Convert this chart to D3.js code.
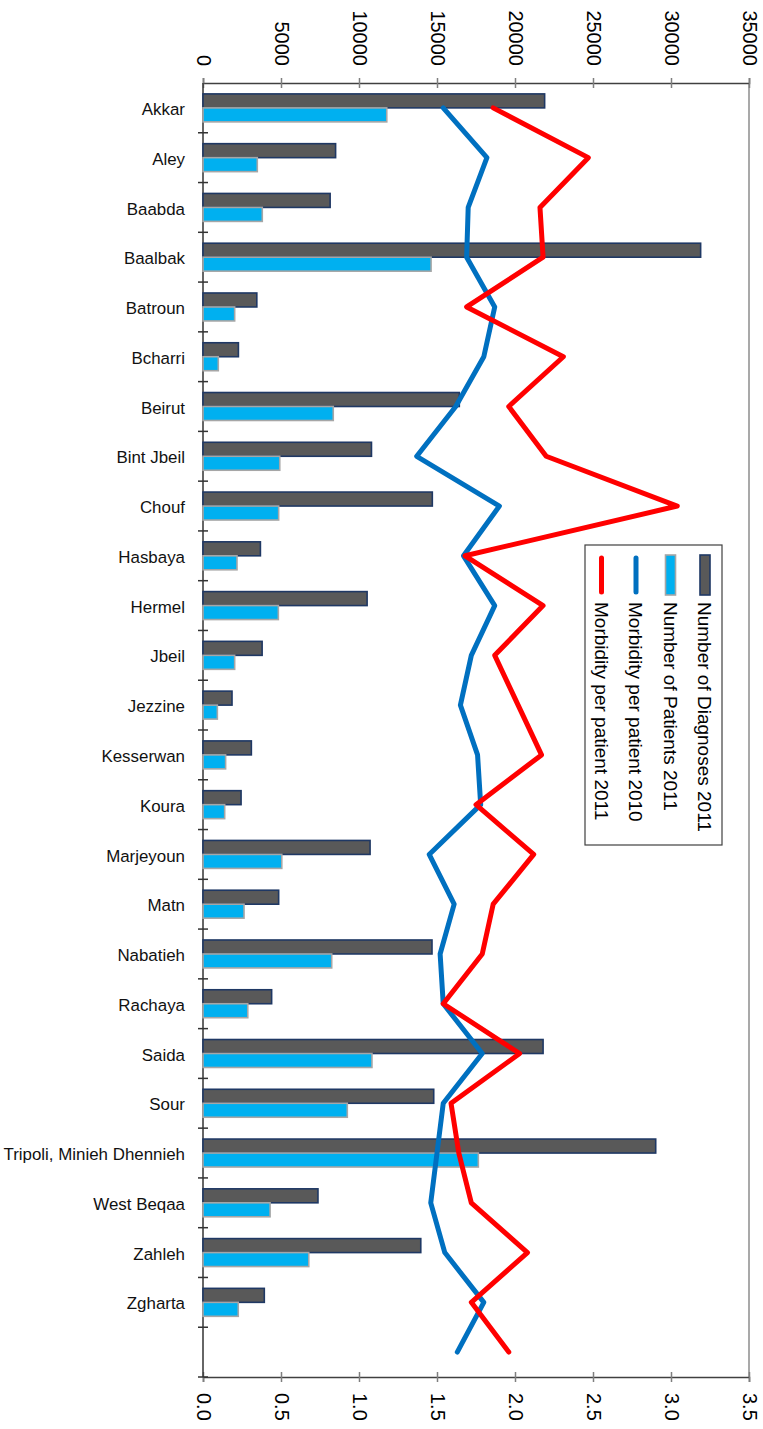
<!DOCTYPE html>
<html>
<head>
  <meta charset="utf-8">
  <title>Diagnoses and Patients by District</title>
  <script src="https://d3js.org/d3.v7.min.js"></script>
  <style>
    body { margin: 0; background: #fff; }
    svg { display: block; font-family: "Liberation Sans", Arial, sans-serif; }
  </style>
</head>
<body>
<svg id="chart" width="763" height="1429"></svg>

<script>
  // values (last row is an unlabeled blank category)
  const districts = ["Akkar", "Aley", "Baabda", "Baalbak", "Batroun", "Bcharri", "Beirut", "Bint Jbeil",
    "Chouf", "Hasbaya", "Hermel", "Jbeil", "Jezzine", "Kesserwan", "Koura", "Marjeyoun", "Matn",
    "Nabatieh", "Rachaya", "Saida", "Sour", "Tripoli, Minieh Dhennieh", "West Beqaa", "Zahleh", "Zgharta", ""];

  const diagnoses2011 = [21900, 8500, 8150, 31900, 3450, 2270, 16430, 10800, 14700, 3680, 10520, 3790,
    1860, 3100, 2440, 10710, 4850, 14680, 4400, 21800, 14790, 29020, 7370, 13960, 3930, null];

  const patients2011 = [11780, 3480, 3800, 14620, 2030, 980, 8350, 4920, 4850, 2180, 4830, 2030,
    920, 1450, 1390, 5050, 2630, 8250, 2870, 10830, 9250, 17650, 4300, 6780, 2260, null];

  const morbidity2010 = [1.54, 1.82, 1.70, 1.69, 1.87, 1.80, 1.62, 1.37, 1.90, 1.67, 1.87, 1.72,
    1.65, 1.76, 1.78, 1.45, 1.61, 1.52, 1.54, 1.79, 1.54, 1.50, 1.46, 1.55, 1.80, 1.63];

  const morbidity2011 = [1.86, 2.47, 2.16, 2.18, 1.69, 2.31, 1.96, 2.20, 3.04, 1.68, 2.18, 1.87,
    2.02, 2.17, 1.75, 2.12, 1.86, 1.79, 1.54, 2.03, 1.59, 1.64, 1.72, 2.08, 1.72, 1.96];

  const countTicks = [0, 5000, 10000, 15000, 20000, 25000, 30000, 35000];
  const ratioTicks = [0, 0.5, 1, 1.5, 2, 2.5, 3, 3.5];

  const legendItems = [
    { label: "Number of Diagnoses 2011", kind: "bar", fill: "#595959", stroke: "#1f3864" },
    { label: "Number of Patients 2011", kind: "bar", fill: "#00b0f0", stroke: "#a6a6a6" },
    { label: "Morbidity per patient 2010", kind: "line", stroke: "#0070c0" },
    { label: "Morbidity per patient 2011", kind: "line", stroke: "#ff0000" }
  ];

  const margin = { top: 83, right: 14, bottom: 52, left: 203 };
  const svg = d3.select("#chart"),
    width = +svg.attr("width") - margin.left - margin.right,
    height = +svg.attr("height") - margin.top - margin.bottom,
    g = svg.append("g").attr("transform", `translate(${margin.left}, ${margin.top})`);

  const rows = districts.map((name, i) => ({
    name,
    diag: diagnoses2011[i],
    pat: patients2011[i],
    m10: morbidity2010[i],
    m11: morbidity2011[i]
  }));

  const y = d3.scaleBand()
    .domain(districts)
    .range([0, height]);

  const yInner = d3.scaleBand()
    .domain(["diag", "pat"])
    .range([0, y.bandwidth()])
    .paddingOuter(0.78);

  const x = d3.scaleLinear().domain([0, 35000]).range([0, width]);
  const x2 = d3.scaleLinear().domain([0, 3.5]).range([0, width]);

  // right border of plot area
  g.append("line")
    .attr("x1", width).attr("x2", width)
    .attr("y1", 0).attr("y2", height)
    .attr("stroke", "#8c8c8c")
    .attr("stroke-width", 1.5);

  // top axis (counts)
  const topAxis = g.append("g")
    .call(d3.axisTop(x).tickValues(countTicks).tickFormat(d3.format("d")).tickSize(5));
  topAxis.select(".domain").attr("stroke", "#404040").attr("stroke-width", 1.5);
  topAxis.selectAll(".tick line").attr("y1", 5).attr("y2", -5).attr("stroke", "#7f7f7f").attr("stroke-width", 1.5);
  topAxis.selectAll(".tick text")
    .attr("transform", "rotate(90)")
    .attr("x", -17).attr("y", 0).attr("dy", "0.35em")
    .attr("text-anchor", "end")
    .attr("fill", "#000")
    .style("font-size", "20px");

  // bottom axis (ratio)
  const bottomAxis = g.append("g")
    .attr("transform", `translate(0, ${height})`)
    .call(d3.axisBottom(x2).tickValues(ratioTicks).tickFormat(d3.format(".1f")).tickSize(5));
  bottomAxis.select(".domain").attr("stroke", "#404040").attr("stroke-width", 1.5);
  bottomAxis.selectAll(".tick line").attr("y1", -5).attr("y2", 5).attr("stroke", "#7f7f7f").attr("stroke-width", 1.5);
  bottomAxis.selectAll(".tick text")
    .attr("transform", "rotate(90)")
    .attr("x", 16).attr("y", 0).attr("dy", "0.35em")
    .attr("text-anchor", "start")
    .attr("fill", "#000")
    .style("font-size", "20px");

  // category axis
  const leftAxis = g.append("g");
  leftAxis.append("line")
    .attr("x1", 0).attr("x2", 0).attr("y1", 0).attr("y2", height)
    .attr("stroke", "#333").attr("stroke-width", 1.5);
  leftAxis.selectAll(".cat-tick")
    .data(districts.slice(1).map(d => y(d)).concat([height]))
    .enter().append("line")
    .attr("class", "cat-tick")
    .attr("x1", -5).attr("x2", 5)
    .attr("y1", d => d).attr("y2", d => d)
    .attr("stroke", "#333").attr("stroke-width", 1.5);
  leftAxis.selectAll(".cat-label")
    .data(districts)
    .enter().append("text")
    .attr("class", "cat-label")
    .attr("x", -18)
    .attr("y", d => y(d) + y.bandwidth() / 2)
    .attr("dy", "0.42em")
    .attr("text-anchor", "end")
    .style("font-size", "16.9px")
    .attr("fill", "#111")
    .text(d => d);

  // bars
  const groups = g.selectAll(".grp")
    .data(rows.filter(d => d.diag != null))
    .enter().append("g")
    .attr("class", "grp")
    .attr("transform", d => `translate(0, ${y(d.name)})`);

  groups.append("rect")
    .attr("x", 0)
    .attr("y", yInner("diag"))
    .attr("width", d => x(d.diag))
    .attr("height", yInner.bandwidth())
    .attr("fill", "#595959")
    .attr("stroke", "#1f3864")
    .attr("stroke-width", 1.6);

  groups.append("rect")
    .attr("x", 0)
    .attr("y", yInner("pat"))
    .attr("width", d => x(d.pat))
    .attr("height", yInner.bandwidth())
    .attr("fill", "#00b0f0")
    .attr("stroke", "#a6a6a6")
    .attr("stroke-width", 1.6);

  // morbidity lines
  const line10 = d3.line().x(d => x2(d.m10)).y(d => y(d.name) + y.bandwidth() / 2);
  const line11 = d3.line().x(d => x2(d.m11)).y(d => y(d.name) + y.bandwidth() / 2);

  g.append("path")
    .datum(rows)
    .attr("d", line10)
    .attr("fill", "none")
    .attr("stroke", "#0070c0")
    .attr("stroke-width", 5)
    .attr("stroke-linejoin", "round")
    .attr("stroke-linecap", "round");

  g.append("path")
    .datum(rows)
    .attr("d", line11)
    .attr("fill", "none")
    .attr("stroke", "#ff0000")
    .attr("stroke-width", 5)
    .attr("stroke-linejoin", "round")
    .attr("stroke-linecap", "round");

  // legend (rotated, like the rest of the chart)
  const legend = svg.append("g").attr("transform", "translate(585, 545)");
  legend.append("rect")
    .attr("width", 137).attr("height", 300)
    .attr("fill", "#fff")
    .attr("stroke", "#404040")
    .attr("stroke-width", 1.2);

  const items = legend.selectAll(".item")
    .data(legendItems)
    .enter().append("g")
    .attr("class", "item")
    .attr("transform", (d, i) => `translate(${120 - i * 34.5}, 0)`);

  items.filter(d => d.kind === "bar").append("rect")
    .attr("x", -5).attr("y", 10)
    .attr("width", 10).attr("height", 40)
    .attr("fill", d => d.fill)
    .attr("stroke", d => d.stroke)
    .attr("stroke-width", 1.6);

  items.filter(d => d.kind === "line").append("line")
    .attr("x1", 0).attr("x2", 0)
    .attr("y1", 13).attr("y2", 47)
    .attr("stroke", d => d.stroke)
    .attr("stroke-width", 5)
    .attr("stroke-linecap", "round");

  items.append("text")
    .attr("transform", "rotate(90)")
    .attr("x", 57).attr("y", 0).attr("dy", "0.35em")
    .style("font-size", "19px")
    .attr("fill", "#000")
    .text(d => d.label);
</script>
</body>
</html>
